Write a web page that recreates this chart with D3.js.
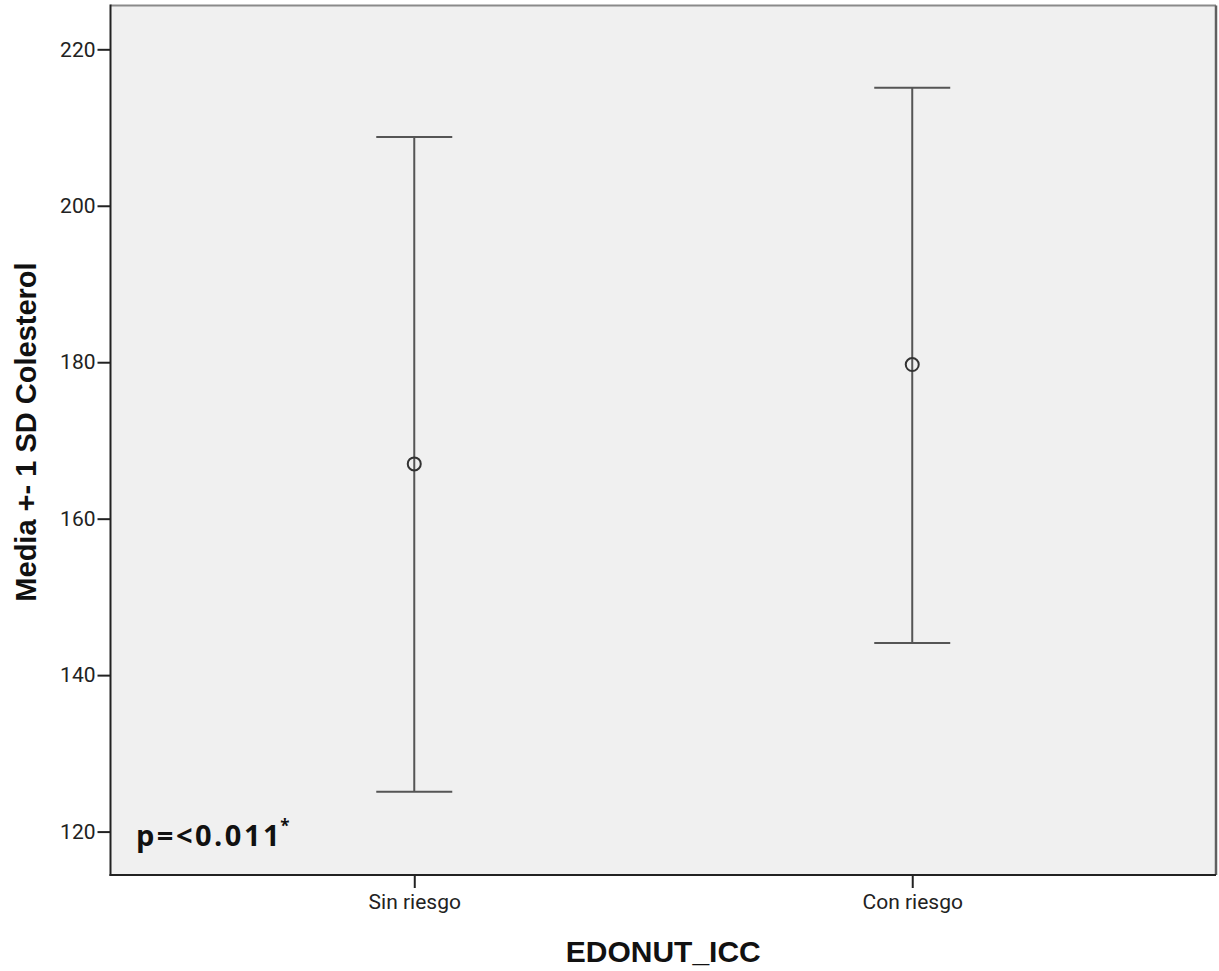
<!DOCTYPE html>
<html>
<head>
<meta charset="utf-8">
<script src="https://cdn.jsdelivr.net/npm/d3@7"></script>
<style>
  html, body { margin: 0; padding: 0; background: #ffffff; }
  svg { display: block; }
  .ptext { font-family: "Open Sans", "Noto Sans", "DejaVu Sans", sans-serif; font-weight: 700; }
</style>
</head>
<body>
<svg id="chart" width="1219" height="971"></svg>
<script>
// ---- data ----
const categories = ["Sin riesgo", "Con riesgo"];
const means = [167.0, 179.7];
const upper = [208.8, 215.1];
const lower = [125.1, 144.1];
const yTicks = [120, 140, 160, 180, 200, 220];
const yDomain = [114.45, 225.6];
const xTitle = "EDONUT_ICC";
const yTitle = "Media +- 1 SD Colesterol";
const pText = "p=<0.011";
const pSup = "*";

// ---- layout ----
const svg = d3.select("#chart");
const plot = { left: 110.5, top: 5.5, right: 1216, bottom: 875 };

const x = d3.scalePoint()
  .domain(categories)
  .range([plot.left, plot.right])
  .padding(0.61);

const y = d3.scaleLinear().domain(yDomain).range([plot.bottom, plot.top]);

// background
svg.append("rect")
  .attr("x", plot.left).attr("y", plot.top)
  .attr("width", plot.right - plot.left).attr("height", plot.bottom - plot.top)
  .attr("fill", "#f0f0f0");

// frame: top and right lighter
svg.append("line").attr("x1", plot.left).attr("x2", plot.right).attr("y1", plot.top).attr("y2", plot.top)
  .attr("stroke", "#8a8a8a").attr("stroke-width", 2);
svg.append("line").attr("x1", plot.right).attr("x2", plot.right).attr("y1", plot.top).attr("y2", plot.bottom)
  .attr("stroke", "#606060").attr("stroke-width", 2.5);

// y axis
const yAxis = d3.axisLeft(y).tickValues(yTicks).tickSize(13).tickPadding(2).tickSizeOuter(0);
const gy = svg.append("g").attr("transform", `translate(${plot.left},0)`).call(yAxis);
gy.select(".domain").remove();
gy.selectAll(".tick line").attr("stroke", "#222").attr("stroke-width", 2);
gy.selectAll(".tick text")
  .attr("font-family", "Roboto, 'Liberation Sans', Arial, sans-serif")
  .attr("font-size", 21).attr("fill", "#222");

// x axis
const xAxis = d3.axisBottom(x).tickSize(13).tickPadding(6).tickSizeOuter(0);
const gx = svg.append("g").attr("transform", `translate(0,${plot.bottom})`).call(xAxis);
gx.select(".domain").remove();
gx.selectAll(".tick line").attr("stroke", "#222").attr("stroke-width", 2);
gx.selectAll(".tick text")
  .attr("font-family", "Roboto, 'Liberation Sans', Arial, sans-serif")
  .attr("font-size", 21).attr("fill", "#222");

// left and bottom frame lines (dark)
svg.append("line").attr("x1", plot.left).attr("x2", plot.left).attr("y1", plot.top - 1).attr("y2", plot.bottom + 1)
  .attr("stroke", "#222").attr("stroke-width", 2);
svg.append("line").attr("x1", plot.left - 1).attr("x2", plot.right).attr("y1", plot.bottom).attr("y2", plot.bottom)
  .attr("stroke", "#222").attr("stroke-width", 2);

// error bars
const data = categories.map((c, i) => ({ c, m: means[i], hi: upper[i], lo: lower[i] }));
const capHalf = 38;
const g = svg.append("g");
g.selectAll(".vbar").data(data).join("line")
  .attr("x1", d => x(d.c)).attr("x2", d => x(d.c))
  .attr("y1", d => y(d.hi)).attr("y2", d => y(d.lo))
  .attr("stroke", "#555").attr("stroke-width", 2);
g.selectAll(".capTop").data(data).join("line")
  .attr("x1", d => x(d.c) - capHalf).attr("x2", d => x(d.c) + capHalf)
  .attr("y1", d => y(d.hi)).attr("y2", d => y(d.hi))
  .attr("stroke", "#555").attr("stroke-width", 2);
g.selectAll(".capBot").data(data).join("line")
  .attr("x1", d => x(d.c) - capHalf).attr("x2", d => x(d.c) + capHalf)
  .attr("y1", d => y(d.lo)).attr("y2", d => y(d.lo))
  .attr("stroke", "#555").attr("stroke-width", 2);
g.selectAll(".mean").data(data).join("circle")
  .attr("cx", d => x(d.c)).attr("cy", d => y(d.m)).attr("r", 6.5)
  .attr("fill", "none").attr("stroke", "#333").attr("stroke-width", 2);

// axis titles
svg.append("text")
  .attr("x", (plot.left + plot.right) / 2).attr("y", 962)
  .attr("text-anchor", "middle")
  .attr("font-family", "'Liberation Sans', Arial, sans-serif")
  .attr("font-weight", "bold").attr("font-size", 30).attr("fill", "#111")
  .text(xTitle);

svg.append("text")
  .attr("transform", `translate(36,432) rotate(-90)`)
  .attr("text-anchor", "middle")
  .attr("font-family", "'Liberation Sans', Arial, sans-serif")
  .attr("font-weight", "bold").attr("font-size", 29).attr("fill", "#111")
  .text(yTitle);

// p-value annotation
const pt = svg.append("text")
  .attr("class", "ptext")
  .attr("x", 136).attr("y", 846)
  .attr("font-size", 29).attr("fill", "#111")
  .attr("letter-spacing", 2.5);
pt.append("tspan").text(pText);
pt.append("tspan").attr("font-size", 17).attr("dy", -14).attr("dx", -2).text(pSup);
</script>
</body>
</html>
